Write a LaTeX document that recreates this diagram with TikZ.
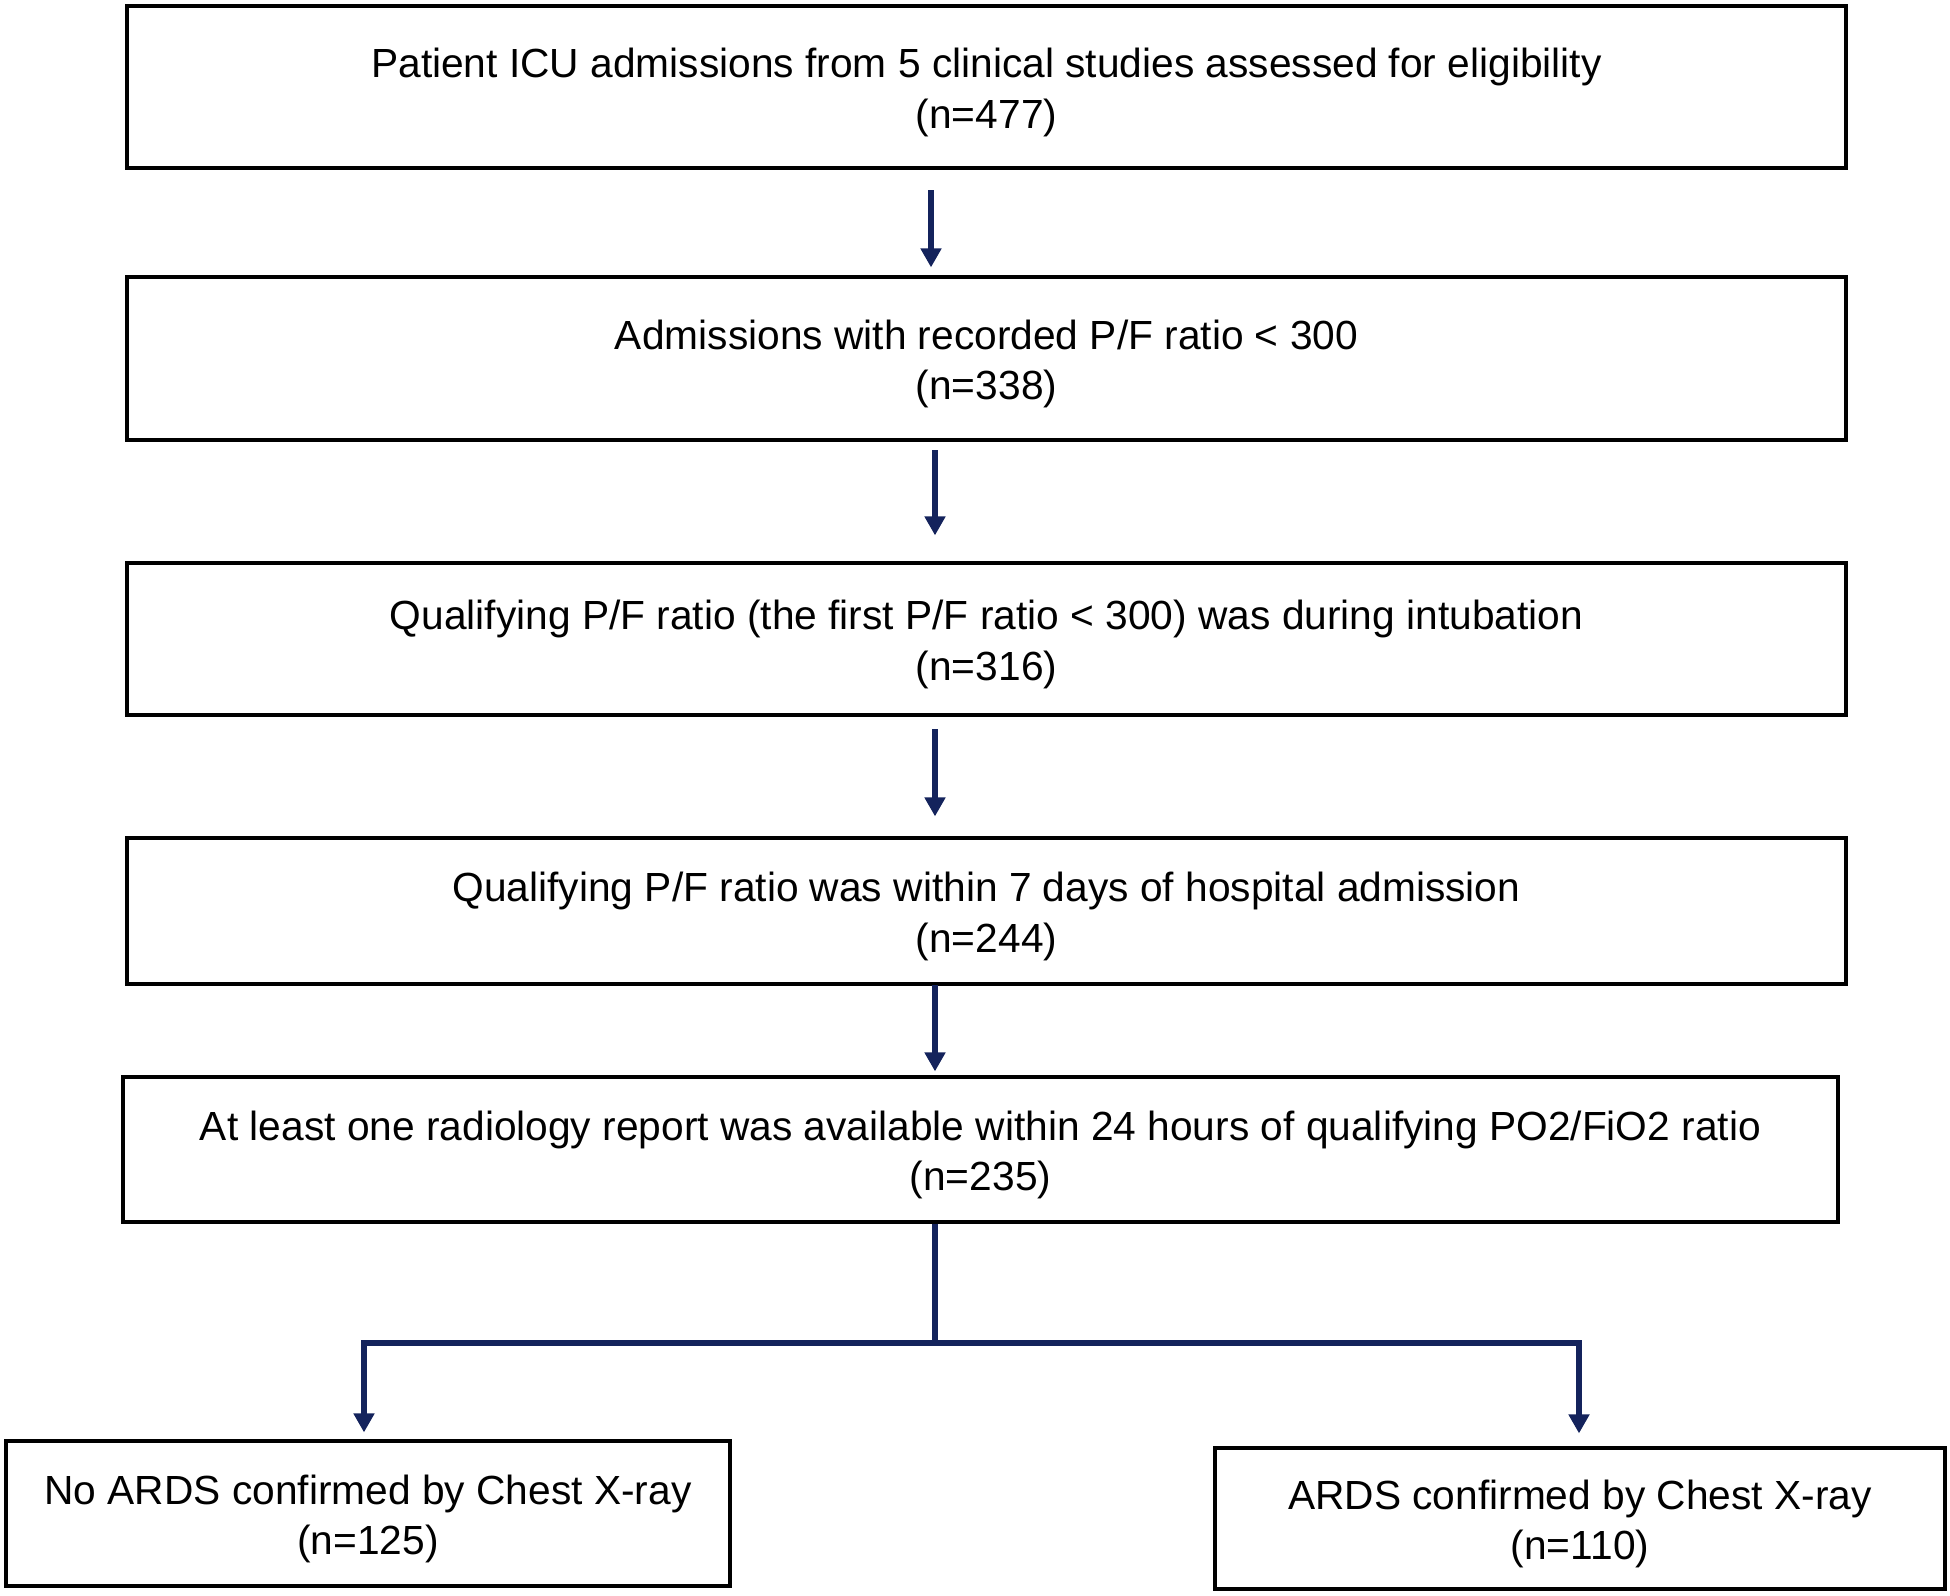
\documentclass[tikz,border=0pt]{standalone}
\usepackage{fontspec}
\setmainfont{Liberation Sans}
\usetikzlibrary{arrows.meta}
\definecolor{navy}{RGB}{20,35,92}
\newcommand\boxtext[2]{\raisebox{-3pt}[\height][\depth]{\begin{tabular}{@{}c@{}}#1\\#2\end{tabular}}}
\begin{document}
\begin{tikzpicture}[x=0.5pt,y=-0.5pt,
  box/.style={draw=black,line width=1.6pt,inner sep=0pt,align=center,
    font=\fontsize{20.35pt}{25.3pt}\selectfont},
  conn/.style={draw=navy,line width=3.2pt,line join=miter},
  arr/.style={conn,-{Triangle[width=10pt,length=9.5pt]}}]
\useasboundingbox (0,0) rectangle (1950,1596);
\node[box,minimum width=859.5pt,minimum height=81pt] (b1) at (986.5,87)
  {\boxtext{Patient ICU admissions from 5 clinical studies assessed for eligibility}{(n=477)}};
\node[box,minimum width=859.5pt,minimum height=81.5pt] (b2) at (986.5,358.5)
  {\boxtext{Admissions with recorded P/F ratio < 300}{(n=338)}};
\node[box,minimum width=859.5pt,minimum height=76pt] (b3) at (986.5,639)
  {\boxtext{Qualifying P/F ratio (the first P/F ratio < 300) was during intubation}{(n=316)}};
\node[box,minimum width=859.5pt,minimum height=73pt] (b4) at (986.5,911)
  {\boxtext{Qualifying P/F ratio was within 7 days of hospital admission}{(n=244)}};
\node[box,minimum width=857.5pt,minimum height=72.5pt] (b5) at (980.5,1149.5)
  {\boxtext{At least one radiology report was available within 24 hours of qualifying PO2/FiO2 ratio}{(n=235)}};
\node[box,minimum width=362pt,minimum height=72.5pt] (b6) at (368,1513.5)
  {\boxtext{No ARDS confirmed by Chest X-ray}{(n=125)}};
\node[box,minimum width=365pt,minimum height=70.5pt] (b7) at (1580,1518.5)
  {\boxtext{ARDS confirmed by Chest X-ray}{(n=110)}};
\coordinate (a1) at (931,190);
\coordinate (a2) at (935,450);
\coordinate (a3) at (935,729);
\coordinate (a4) at (935,985);
\coordinate (split) at (935,1343);
\coordinate (lft) at (364,1343);
\coordinate (rgt) at (1579,1343);
\draw[arr,shorten >=4pt] (a1) -- (a1 |- b2.north);
\draw[arr,shorten >=13pt] (a2) -- (a2 |- b3.north);
\draw[arr,shorten >=10pt] (a3) -- (a3 |- b4.north);
\draw[arr,shorten >=2pt] (a4) -- (a4 |- b5.north);
\draw[conn] (b5.south -| split) -- (split);
\draw[arr,shorten >=3.5pt] (split) -- (lft) -- (lft |- b6.north);
\draw[arr,shorten >=6.5pt] (split) -- (rgt) -- (rgt |- b7.north);
\end{tikzpicture}
\end{document}
